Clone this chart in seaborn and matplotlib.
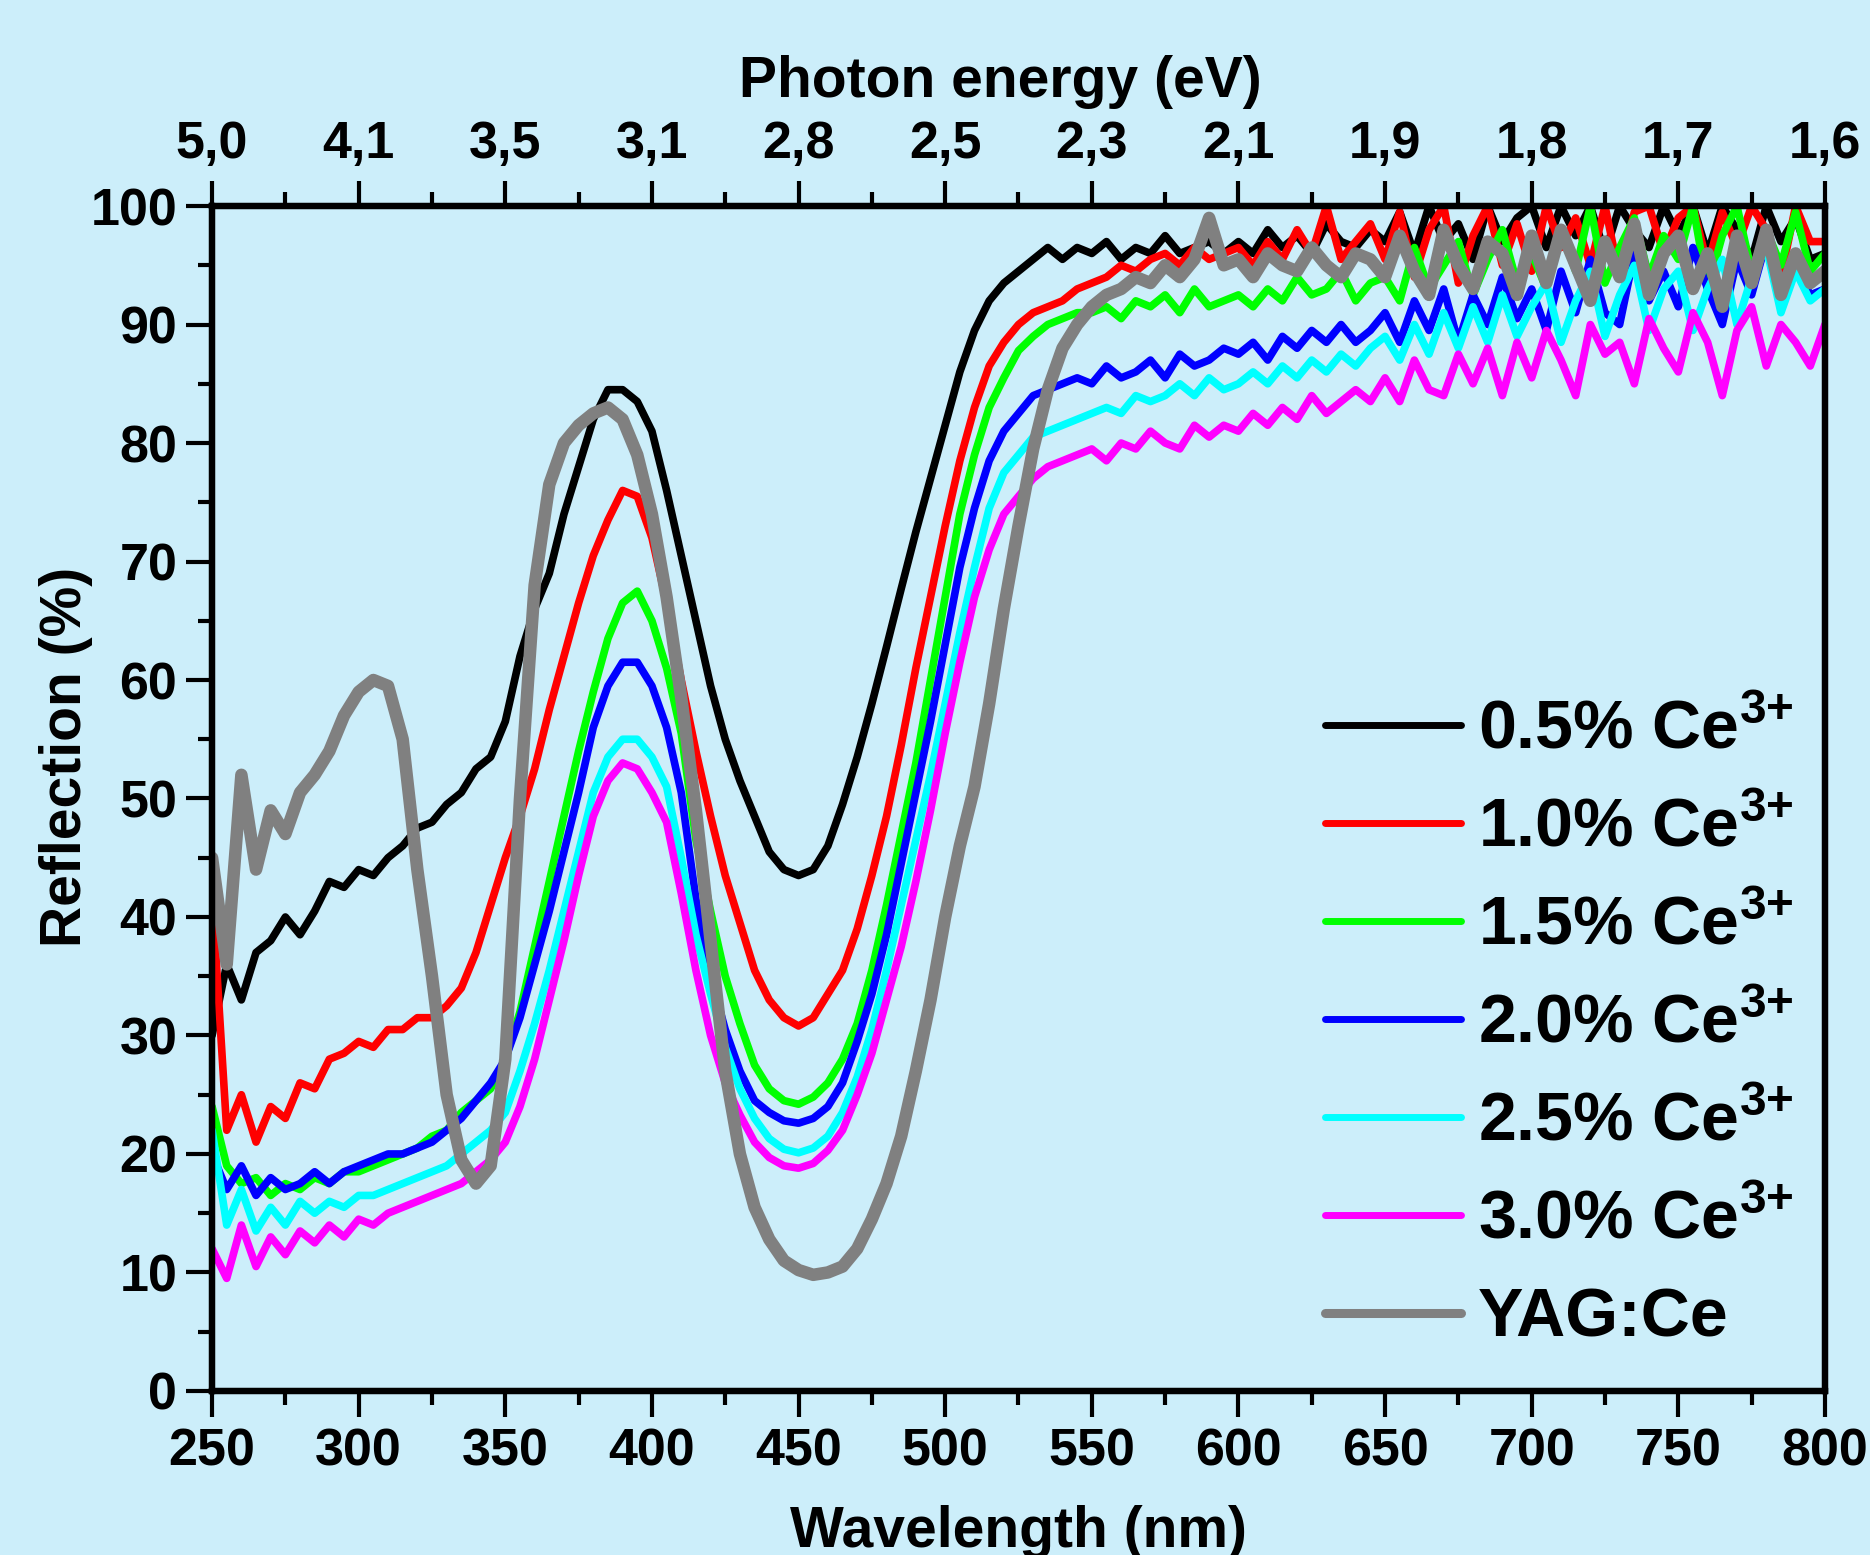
import numpy as np
import matplotlib
matplotlib.use('Agg')
import matplotlib.pyplot as plt
import seaborn as sns
from matplotlib.ticker import MultipleLocator

# wavelength grid (nm) and reflection values (%)
wl = np.arange(250, 801, 5)

r_05 = [30, 36, 33, 37, 38, 40, 38.5, 40.5, 43, 42.5,
        44, 43.5, 45, 46, 47.5, 48, 49.5, 50.5, 52.5, 53.5,
        56.5, 62, 66, 69, 74, 78, 82, 84.5, 84.5, 83.5,
        81, 76, 70.5, 65, 59.5, 55, 51.5, 48.5, 45.5, 44,
        43.5, 44, 46, 49.5, 53.5, 58, 62.8, 67.7, 72.5, 77,
        81.5, 86, 89.5, 92, 93.5, 94.5, 95.5, 96.5, 95.5, 96.5,
        96, 97, 95.5, 96.5, 96, 97.5, 96, 96.5, 97, 96,
        97, 96, 98, 96.5, 97.5, 96, 98.5, 97, 96.5, 98,
        97, 99.5, 96, 100, 97, 98.5, 95.5, 100, 97, 99,
        100, 96.5, 100, 97.5, 100, 96, 100, 98, 96.5, 100,
        97.5, 100, 96, 100, 98, 95.5, 100, 97, 99, 95.5,
        96]

r_10 = [42, 22, 25, 21, 24, 23, 26, 25.5, 28, 28.5,
        29.5, 29, 30.5, 30.5, 31.5, 31.5, 32.5, 34, 37, 41,
        45, 48.5, 52.5, 57.5, 62, 66.5, 70.5, 73.5, 76, 75.5,
        72, 66.5, 60, 54, 48.5, 43.5, 39.5, 35.5, 33, 31.5,
        30.8, 31.5, 33.5, 35.5, 39, 43.5, 48.5, 54.5, 61, 67,
        73, 78.5, 83, 86.5, 88.5, 90, 91, 91.5, 92, 93,
        93.5, 94, 95, 94.5, 95.5, 96, 95, 96.5, 95.5, 96,
        96.5, 95, 97, 95.5, 98, 96, 100, 95.5, 97, 98.5,
        95.5, 99.5, 94, 98, 100, 93.5, 97.5, 100, 95, 98.5,
        94.5, 100, 96.5, 99, 95, 100, 94, 99.5, 100, 96,
        99, 100, 95, 99.5, 96.5, 100, 98, 94, 100, 97,
        97]

r_15 = [24, 19, 17.5, 18, 16.5, 17.5, 17, 18, 17.5, 18.5,
        18.5, 19, 19.5, 20, 20.5, 21.5, 22, 23.5, 24.5, 25.5,
        28, 32, 37.5, 43, 48.5, 54, 59, 63.5, 66.5, 67.5,
        65, 61, 55.5, 46.5, 40.5, 35, 31, 27.5, 25.5, 24.5,
        24.2, 24.8, 26, 28, 31, 35.5, 41, 47, 53, 60,
        67, 74, 79, 83, 85.5, 87.8, 89, 90, 90.5, 91,
        91, 91.5, 90.5, 92, 91.5, 92.5, 91, 93, 91.5, 92,
        92.5, 91.5, 93, 92, 94, 92.5, 93, 94.5, 92, 93.5,
        94, 92, 96.5, 93, 95, 97, 92.5, 95.5, 98, 93.5,
        96, 93, 98, 94.5, 100, 93.5, 96.5, 99, 94, 97.5,
        95.5, 100, 93, 97.5, 100, 94.5, 98, 95, 99.5, 94.5,
        96]

r_20 = [20, 17, 19, 16.5, 18, 17, 17.5, 18.5, 17.5, 18.5,
        19, 19.5, 20, 20, 20.5, 21, 22, 23, 24.5, 26,
        28, 31.5, 36, 40.5, 45.5, 50.5, 56, 59.5, 61.5, 61.5,
        59.5, 56, 50.5, 41.5, 35, 30.5, 27, 24.5, 23.5, 22.8,
        22.6, 23, 24, 26, 29.5, 33.5, 38.5, 44.5, 50.5, 56.5,
        63, 69.5, 74.5, 78.5, 81, 82.5, 84, 84.5, 85, 85.5,
        85, 86.5, 85.5, 86, 87, 85.5, 87.5, 86.5, 87, 88,
        87.5, 88.5, 87, 89, 88, 89.5, 88.5, 90, 88.5, 89.5,
        91, 88.5, 92, 89.5, 93, 88.5, 92.5, 90, 94, 90.5,
        93, 89.5, 94.5, 91, 95.5, 91, 90, 96, 92, 94.5,
        91.5, 96.5, 93, 90, 95.5, 92.5, 97, 91.5, 95, 92.5,
        93]

r_25 = [22, 14, 17, 13.5, 15.5, 14, 16, 15, 16, 15.5,
        16.5, 16.5, 17, 17.5, 18, 18.5, 19, 20, 21, 22,
        23.5, 27, 31, 35.5, 40.5, 45.5, 50.5, 53.5, 55, 55,
        53.5, 51, 45, 38.5, 33.5, 29, 25.5, 23, 21.3, 20.4,
        20.1, 20.5, 21.5, 23.5, 26.5, 30.5, 35.5, 41, 46.5, 52,
        58, 64, 69.5, 74.5, 77.5, 79, 80.5, 81, 81.5, 82,
        82.5, 83, 82.5, 84, 83.5, 84, 85, 84, 85.5, 84.5,
        85, 86, 85, 86.5, 85.5, 87, 86, 87.5, 86.5, 88,
        89, 87, 90, 87.5, 91, 88, 91.5, 88.5, 92.5, 89,
        91.5, 93.5, 88.5, 92, 94.5, 89, 92.5, 95, 89.5, 93,
        94.5, 89.5, 93, 95.5, 90, 94, 96.5, 91, 94.5, 92,
        93]

r_30 = [12, 9.5, 14, 10.5, 13, 11.5, 13.5, 12.5, 14, 13,
        14.5, 14, 15, 15.5, 16, 16.5, 17, 17.5, 18.5, 19.5,
        21, 24, 28, 33, 38, 43.5, 48.5, 51.5, 53, 52.5,
        50.5, 48, 42, 35.5, 30, 26, 23.3, 21, 19.7, 19,
        18.8, 19.2, 20.3, 22, 25, 28.5, 33, 37.5, 43, 49,
        55.5, 61.5, 67, 71, 74, 75.5, 77, 78, 78.5, 79,
        79.5, 78.5, 80, 79.5, 81, 80, 79.5, 81.5, 80.5, 81.5,
        81, 82.5, 81.5, 83, 82, 84, 82.5, 83.5, 84.5, 83.5,
        85.5, 83.5, 87, 84.5, 84, 87.5, 85, 88, 84, 88.5,
        85.5, 89.5, 87, 84, 90, 87.5, 88.5, 85, 90.5, 88,
        86, 91, 88.5, 84, 89.5, 91.5, 86.5, 90, 88.5, 86.5,
        90]

r_yag = [45, 36, 52, 44, 49, 47, 50.5, 52, 54, 57,
         59, 60, 59.5, 55, 44, 35, 25, 19.5, 17.5, 19,
         28, 50, 68, 76.5, 80, 81.5, 82.5, 83, 82, 79,
         74, 67, 58.5, 49, 38, 27, 20, 15.5, 12.8, 11,
         10.2, 9.8, 10, 10.5, 12, 14.5, 17.5, 21.5, 27, 33,
         40, 46, 51, 58, 66, 73, 79.5, 84.5, 88, 90,
         91.5, 92.5, 93, 94, 93.5, 95, 94, 95.5, 99, 95,
         95.5, 94, 96, 95, 94.5, 96.5, 95, 94, 96, 95.5,
         94, 97.5, 94.5, 92.5, 98, 95, 93, 97, 96, 92.5,
         97.5, 93.5, 98, 95, 92, 97, 94, 98.5, 92.5, 96,
         97.5, 93, 96, 91.5, 97.5, 93.5, 98, 92.5, 96, 93.5,
         94.5]

series = [r_05, r_10, r_15, r_20, r_25, r_30, r_yag]
labels = ['0.5% Ce$^{3{+}}$', '1.0% Ce$^{3{+}}$', '1.5% Ce$^{3{+}}$', '2.0% Ce$^{3{+}}$',
          '2.5% Ce$^{3{+}}$', '3.0% Ce$^{3{+}}$', 'YAG:Ce']
colors = ['#000000', '#FF0000', '#00FF00', '#0000FF', '#00FFFF', '#FF00FF', '#808080']
widths = [5.5, 5.5, 5.5, 5.5, 5.5, 5.5, 9]

wl_ticks = [250, 300, 350, 400, 450, 500, 550, 600, 650, 700, 750, 800]
ev_labels = ['5,0', '4,1', '3,5', '3,1', '2,8', '2,5', '2,3', '2,1', '1,9', '1,8', '1,7', '1,6']

bg = '#CCEEFA'
sns.set_style('ticks', {'axes.facecolor': bg, 'figure.facecolor': bg})
plt.rcParams['font.family'] = ['Liberation Sans', 'DejaVu Sans']
plt.rcParams['font.weight'] = 'bold'
plt.rcParams['mathtext.fontset'] = 'custom'
plt.rcParams['mathtext.rm'] = 'Liberation Sans:bold'
plt.rcParams['mathtext.bf'] = 'Liberation Sans:bold'
plt.rcParams['mathtext.default'] = 'bf'
for k in ('text.color', 'axes.labelcolor', 'xtick.color', 'ytick.color', 'axes.edgecolor'):
    plt.rcParams[k] = 'black'

fig = plt.figure(figsize=(18.7, 15.55), dpi=100)
fig.patch.set_facecolor(bg)
ax = fig.add_axes([0.1134, 0.1055, 0.8625, 0.762])
ax.set_facecolor(bg)

for vals, lab, col, lw in zip(series, labels, colors, widths):
    sns.lineplot(x=wl, y=vals, color=col, linewidth=lw, label=lab, ax=ax)

ax.set_xlim(250, 800)
ax.set_ylim(0, 100)
ax.set_xticks(wl_ticks)
ax.xaxis.set_minor_locator(MultipleLocator(25))
ax.yaxis.set_major_locator(MultipleLocator(10))
ax.yaxis.set_minor_locator(MultipleLocator(5))
ax.tick_params(which='major', direction='out', length=19, width=3, labelsize=37.5)
ax.tick_params(which='minor', direction='out', length=10, width=3)
ax.tick_params(axis='x', which='major', pad=7)
ax.tick_params(axis='y', which='major', pad=6)

ax.set_xlabel('Wavelength (nm)', fontsize=41, fontweight='bold')
ax.xaxis.set_label_coords(0.5, -0.096)
ax.set_ylabel('Reflection (%)', fontsize=41, fontweight='bold')
ax.yaxis.set_label_coords(-0.074, 0.535)

top = ax.twiny()
top.set_xlim(250, 800)
top.set_xticks(wl_ticks)
top.set_xticklabels(ev_labels)
top.xaxis.set_minor_locator(MultipleLocator(25))
top.tick_params(which='major', direction='out', length=18, width=3, labelsize=37.5, pad=9)
top.tick_params(which='minor', direction='out', length=10, width=3)
top.set_xlabel('Photon energy (eV)', fontsize=41, fontweight='bold')
top.xaxis.set_label_coords(0.4885, 1.092)

for a in (ax, top):
    for s in a.spines.values():
        s.set_linewidth(4.5)
        s.set_color('black')

leg = ax.legend(loc='lower right', bbox_to_anchor=(0.985, 0.028), frameon=False,
                fontsize=49, handlelength=2.0, handletextpad=0.25, labelspacing=0.5,
                borderaxespad=0, borderpad=0.1)
for line in leg.get_lines():
    line.set_linewidth(5)
leg.get_lines()[-1].set_linewidth(6.5)

fig.savefig('out.png', dpi=100, facecolor=bg)
